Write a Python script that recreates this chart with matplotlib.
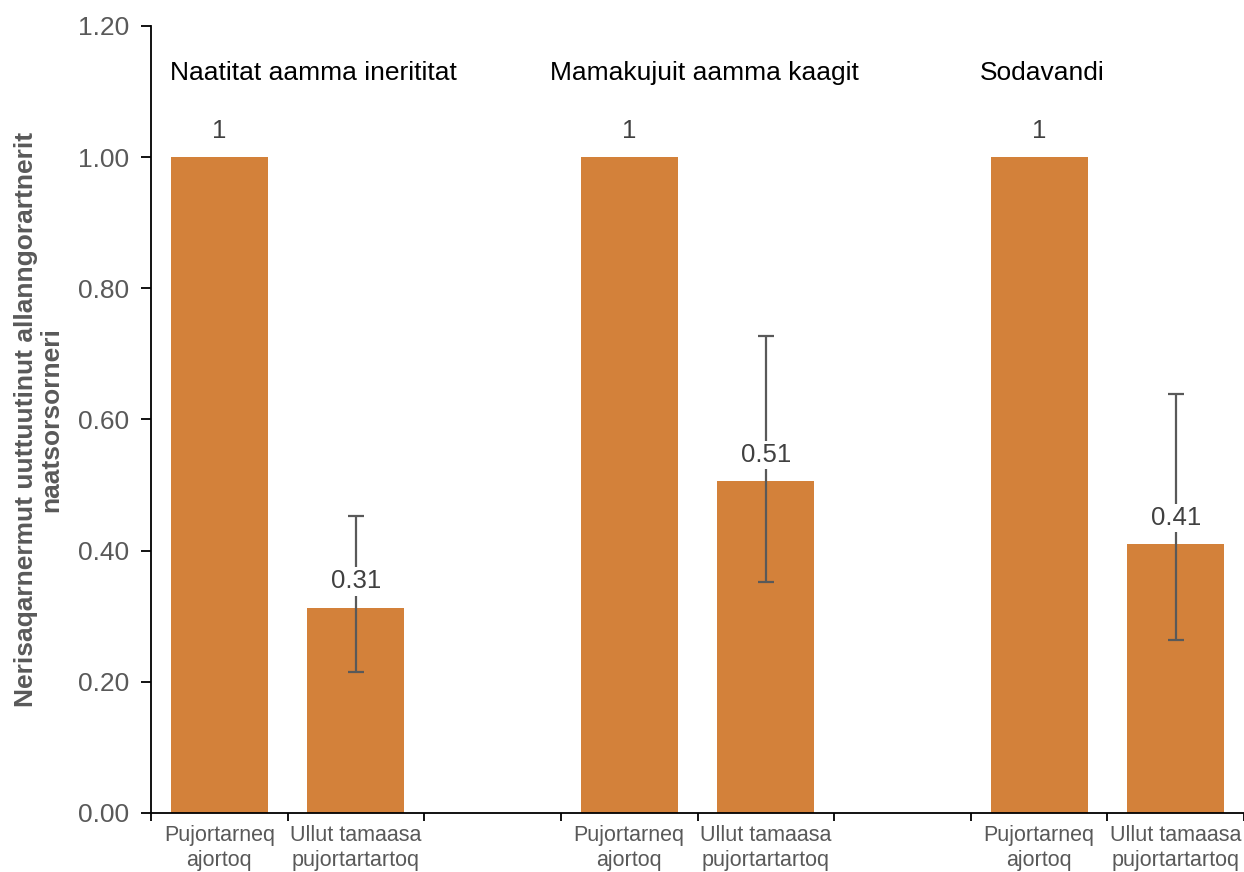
import matplotlib
matplotlib.use("Agg")
import matplotlib.pyplot as plt
import numpy as np

plt.rcParams['font.family'] = ['Liberation Sans', 'DejaVu Sans']

categories = ["Pujortarneq\najortoq", "Ullut tamaasa\npujortartartoq", "",
              "Pujortarneq\najortoq", "Ullut tamaasa\npujortartartoq", "",
              "Pujortarneq\najortoq", "Ullut tamaasa\npujortartartoq"]
values = [1.0, 0.313, None, 1.0, 0.506, None, 1.0, 0.41]
value_labels = ["1", "0.31", "", "1", "0.51", "", "1", "0.41"]
err_low = [None, 0.215, None, None, 0.352, None, None, 0.264]
err_high = [None, 0.453, None, None, 0.727, None, None, 0.639]
group_titles = ["Naatitat aamma inerititat", "Mamakujuit aamma kaagit", "Sodavandi"]
group_title_x = [-0.36, 2.42, 5.57]
yticks = [0.0, 0.2, 0.4, 0.6, 0.8, 1.0, 1.2]

bar_color = "#D3813A"
grey = "#595959"

fig = plt.figure(figsize=(12.44, 8.72), dpi=100)
ax = fig.add_axes([0.1214, 0.0677, 0.8786, 0.9025])

x = np.arange(len(categories))
for i, v in enumerate(values):
    if v is None:
        continue
    ax.bar(x[i], v, width=0.71, color=bar_color, zorder=2)
    if err_low[i] is not None:
        ax.errorbar(x[i], v, yerr=[[v - err_low[i]], [err_high[i] - v]],
                    fmt='none', ecolor=grey, elinewidth=1.6, capsize=6,
                    capthick=1.6, zorder=3)
    ax.text(x[i], v + 0.04, value_labels[i], ha='center', va='center',
            fontsize=18.5, color="#404040", zorder=4,
            bbox=dict(facecolor='white', edgecolor='none', pad=1.5))

for t, tx in zip(group_titles, group_title_x):
    ax.text(tx, 1.128, t, ha='left', va='center', fontsize=19, color='black')

ax.set_xlim(-0.5, len(categories) - 0.5)
ax.set_ylim(0, 1.2)
ax.set_yticks(yticks)
ax.set_yticklabels([f"{t:.2f}" for t in yticks], fontsize=19, color=grey)

ax.set_xticks(np.arange(-0.5, len(categories), 1.0))
ax.set_xticklabels([])
ax.set_xticks(x, minor=True)
ax.set_xticklabels(categories, minor=True, fontsize=15.5, color=grey, linespacing=1.2)
ax.tick_params(axis='x', which='minor', length=0, pad=9)
ax.tick_params(axis='x', which='major', length=6, width=1.3, color='black')
ax.tick_params(axis='y', length=7, width=1.3, color='black', pad=9)

for s in ['top', 'right']:
    ax.spines[s].set_visible(False)
for s in ['left', 'bottom']:
    ax.spines[s].set_linewidth(1.3)
    ax.spines[s].set_color('black')

ax.set_ylabel("Nerisaqarnermut uuttuutinut allanngorartnerit\nnaatsorsorneri",
              fontsize=19, fontweight='bold', color=grey, labelpad=10, linespacing=1.1)

fig.savefig("out.png", dpi=100)
